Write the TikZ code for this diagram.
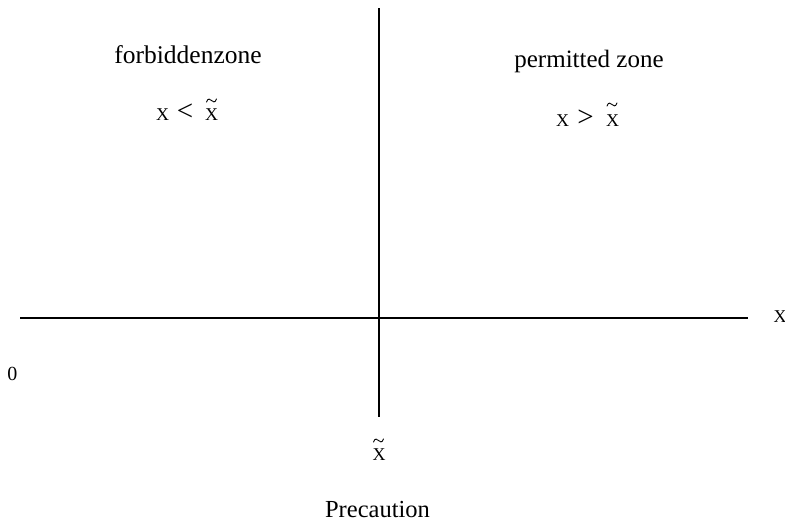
\documentclass[tikz,border=0pt]{standalone}
\usepackage{fontspec}
\setmainfont{Liberation Serif}
\begin{document}
\begin{tikzpicture}[x=1pt,y=-1pt,
  lbl/.style={inner sep=0pt, anchor=base},
  big/.style={font=\fontsize{25}{30}\selectfont},
  sm/.style={font=\fontsize{18}{20}\selectfont},
  rel/.style={font=\fontsize{29}{30}\selectfont},
  ax/.style={line width=1.6pt},
  tildemark/.pic={\draw[line width=0.9pt, line cap=round] (-5,1.5) .. controls (-3.5,-3) and (-1.2,-1.2) .. (0,0) .. controls (1.2,1.2) and (3.5,3) .. (5,-1.5);}]
\useasboundingbox (0,0) rectangle (785,522);
\coordinate (hl) at (20,318);
\coordinate (hr) at (748,318);
\coordinate (vt) at (379,8);
\coordinate (vb) at (379,417);
\draw[ax] (hl) -- (hr);
\draw[ax] (vt) -- (vb);
\node[lbl, font=\fontsize{25.5}{30}\selectfont] (fz) at (188,63) {forbiddenzone};
\node[lbl, big] (pz) at (589,67) {permitted zone};
% x < x~
\node[lbl, sm] (xa) at (162.5,120) {X};
\node[lbl, rel] (lt) at (185,120) {<};
\node[lbl, sm] (xta) at (211.5,120) {X};
\pic (ta) at (211.5,100.5) {tildemark};
% x > x~
\node[lbl, sm] (xb) at (562.5,126) {X};
\node[lbl, rel] (gt) at (585.5,126) {>};
\node[lbl, sm] (xtb) at (612.5,126) {X};
\pic (tb) at (612,104.5) {tildemark};
% axis labels
\node[lbl, sm] (xax) at (780,322) {X};
\node[lbl, font=\fontsize{20}{22}\selectfont] (zero) at (12.5,380) {0};
\node[lbl, sm] (xtc) at (379,460) {X};
\pic (tc) at (378.5,440.5) {tildemark};
\node[lbl, font=\fontsize{24.5}{30}\selectfont] (prec) at (377.5,517) {Precaution};
\end{tikzpicture}
\end{document}
